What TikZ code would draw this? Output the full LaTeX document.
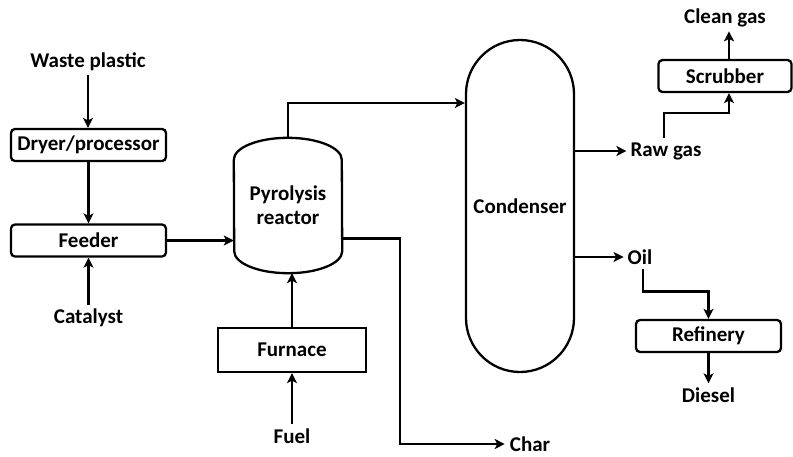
\documentclass[tikz,border=0pt]{standalone}
\usepackage{fontspec}
\setmainfont{Carlito}
\usetikzlibrary{arrows.meta,positioning}
\tikzset{
  unit/.style={draw,line width=2.3pt,rounded corners=4pt,minimum height=32pt,inner sep=2pt},
  plainunit/.style={unit,rounded corners=0pt,minimum height=44pt},
  stream/.style={inner sep=4pt},
  flow/.style={-{Stealth[length=10pt,width=10pt,inset=2.5pt]},line width=2.3pt}
}

\begin{document}
\begin{tikzpicture}[x=1pt,y=-1pt,every node/.style={font=\fontsize{21}{24}\selectfont\bfseries}]
\useasboundingbox (0,0) rectangle (793,456);
% feed line
\node[stream] (waste) at (88,62) {Waste plastic};
\node[unit,minimum width=155pt] (dryer) at (88.5,145) {Dryer/processor};
\node[unit,minimum width=155pt] (feeder) at (88.5,240.5) {Feeder};
\node[stream] (catalyst) at (88.5,318) {Catalyst};
\draw[flow] (waste) -- (waste |- dryer.north);
\draw[flow] (dryer) -- (feeder);
\draw[flow] (catalyst) -- (feeder);
% reactor and heating
\node[minimum width=108pt,minimum height=135pt,inner sep=0pt,align=center] (reactor) at (288,205.5) {Pyrolysis\\reactor};
\draw[line width=2.3pt] ([yshift=-22pt]reactor.north west)
  arc[start angle=180,end angle=0,x radius=54pt,y radius=22pt]
  -- ([yshift=22pt]reactor.south east)
  arc[start angle=0,end angle=-180,x radius=54pt,y radius=22pt] -- cycle;
\node[plainunit,minimum width=148pt] (furnace) at (292,350) {Furnace};
\node[stream] (fuel) at (292,436) {Fuel};
\node[stream,inner sep=2pt] (char) at (530,444) {Char};
\draw[flow] (feeder.east) -- (feeder.east -| reactor.west);
\draw[flow] (furnace.north) -- (furnace.north |- reactor.south);
\draw[flow] (fuel) -- (furnace);
\draw[flow] ([yshift=-33pt]reactor.east) -- ++(58,0) |- ([xshift=-3pt]char.west);
% condenser and products
\node[draw,line width=2.3pt,rounded corners=54pt,minimum width=108pt,minimum height=332pt,inner sep=0pt] (condenser) at (520,206) {Condenser};
\draw[flow] (reactor.north) |- ([yshift=103pt]condenser.west);
\node[stream] (rawgas) at (666,151) {Raw gas};
\node[stream] (oil) at (640,257) {Oil};
\draw[flow] (rawgas.west -| condenser.east) -- (rawgas.west);
\draw[flow] (oil.west -| condenser.east) -- (oil.west);
\node[unit,minimum width=133pt] (scrubber) at (725,76) {Scrubber};
\node[stream] (clean) at (725,18) {Clean gas};
\node[unit,minimum width=145pt] (refinery) at (708.5,336) {Refinery};
\node[stream] (diesel) at (708.5,395) {Diesel};
\draw[flow] ([xshift=-2pt]rawgas.north) -- ++(0,-25) -| ([xshift=4pt]scrubber.south);
\draw[flow] ([xshift=4pt]scrubber.north) -- ([xshift=4pt]scrubber.north |- clean.south);
\draw[flow] ([xshift=3pt]oil.south) -- ++(0,23) -| (refinery.north);
\draw[flow] (refinery) -- (diesel);
\end{tikzpicture}
\end{document}
